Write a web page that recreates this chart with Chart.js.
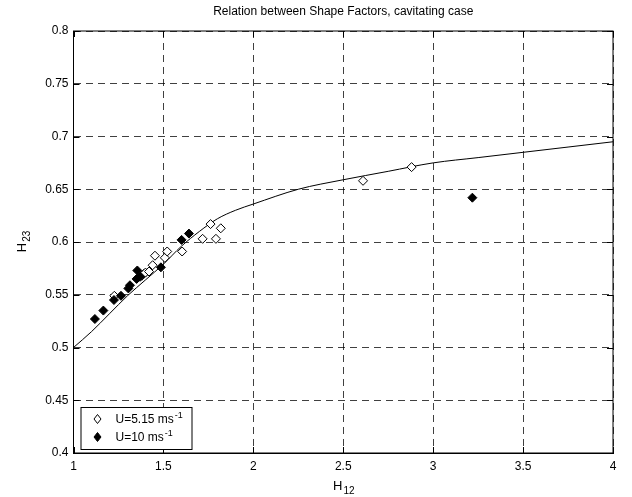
<!DOCTYPE html>
<html>
<head>
<script src="https://cdn.jsdelivr.net/npm/chart.js"></script>
<style>
  body { margin: 0; background: #fff; }
  canvas { display: block; }
</style>
</head>
<body>
<canvas id="shapeChart" width="632" height="497"></canvas>
<script>
// --- Data ---
const titleText = 'Relation between Shape Factors, cavitating case';
const xTitle = 'H_12';
const yTitle = 'H_23';

const xTicks = [1, 1.5, 2, 2.5, 3, 3.5, 4];
const yTicks = [0.4, 0.45, 0.5, 0.55, 0.6, 0.65, 0.7, 0.75, 0.8];

// U = 5.15 m/s (open diamonds)
const lowH12 = [1.227, 1.38, 1.392, 1.40, 1.42, 1.44, 1.453, 1.508, 1.521, 1.604, 1.718, 1.762, 1.792, 1.819, 2.61, 2.88];
const lowH23 = [0.549, 0.568, 0.570, 0.571, 0.572, 0.578, 0.587, 0.585, 0.591, 0.591, 0.603, 0.617, 0.603, 0.613, 0.658, 0.671];

// U = 10 m/s (filled diamonds)
const highH12 = [1.119, 1.166, 1.225, 1.264, 1.305, 1.314, 1.351, 1.355, 1.37, 1.486, 1.601, 1.642, 3.218];
const highH23 = [0.527, 0.535, 0.545, 0.549, 0.556, 0.559, 0.565, 0.573, 0.567, 0.576, 0.602, 0.608, 0.642];

// fitted relation (solid line)
const fitH12 = [1.0, 1.1, 1.2, 1.3, 1.4, 1.5, 1.6, 1.7, 1.8, 1.9, 2.0, 2.25, 2.5, 2.75, 3.0, 3.25, 3.5, 3.75, 4.0];
const fitH23 = [0.500, 0.515, 0.532, 0.549, 0.564, 0.579, 0.596, 0.610, 0.622, 0.630, 0.636, 0.650, 0.659, 0.667, 0.675, 0.680, 0.685, 0.690, 0.695];

const FONT = 'Arial, "Liberation Sans", Helvetica, sans-serif';
const toXY = (xs, ys) => xs.map((x, i) => ({ x: x, y: ys[i] }));
const fmt = v => String(Number(v.toFixed(2)));

// draw "H_12" / "ms^-1" style text with sub/superscripts
function drawRich(ctx, text, x, y, size, align) {
  const m = text.match(/^(.*?)([_^])(.*)$/);
  const base = m ? m[1] : text;
  const script = m ? m[3] : '';
  ctx.font = size + 'px ' + FONT;
  const wb = ctx.measureText(base).width;
  ctx.font = Math.round(size * 0.75) + 'px ' + FONT;
  const ws = ctx.measureText(script).width;
  let x0 = x;
  if (align === 'center') x0 = x - (wb + ws) / 2;
  ctx.textAlign = 'left';
  ctx.textBaseline = 'middle';
  ctx.font = size + 'px ' + FONT;
  ctx.fillText(base, x0, y);
  if (m) {
    ctx.font = Math.round(size * 0.75) + 'px ' + FONT;
    const dy = m[2] === '_' ? size * 0.4 : -size * 0.4;
    ctx.fillText(script, x0 + wb + 1, y + dy);
  }
}

const matlabFrame = {
  id: 'matlabFrame',
  afterDraw(chart) {
    const { ctx, chartArea: a, scales } = chart;
    ctx.save();
    ctx.strokeStyle = '#000';
    ctx.lineWidth = 1;
    ctx.setLineDash([]);
    ctx.strokeRect(a.left, a.top, a.right - a.left, a.bottom - a.top);
    // inward ticks on all sides
    const t = 6;
    ctx.beginPath();
    xTicks.forEach(v => {
      const px = Math.round(scales.x.getPixelForValue(v)) + 0.5;
      ctx.moveTo(px, a.bottom); ctx.lineTo(px, a.bottom - t);
      ctx.moveTo(px, a.top); ctx.lineTo(px, a.top + t);
    });
    yTicks.forEach(v => {
      const py = Math.round(scales.y.getPixelForValue(v)) + 0.5;
      ctx.moveTo(a.left, py); ctx.lineTo(a.left + t, py);
      ctx.moveTo(a.right, py); ctx.lineTo(a.right - t, py);
    });
    ctx.stroke();

    // axis titles
    ctx.fillStyle = '#000';
    drawRich(ctx, xTitle, (a.left + a.right) / 2, 486, 13, 'center');
    ctx.save();
    ctx.translate(22, (a.top + a.bottom) / 2);
    ctx.rotate(-Math.PI / 2);
    drawRich(ctx, yTitle, 0, 0, 13, 'center');
    ctx.restore();

    // legend box, lower left
    const bx = a.left + 7, by = a.bottom - 46, bw = 111, bh = 42;
    ctx.fillStyle = '#fff';
    ctx.fillRect(bx, by, bw, bh);
    ctx.strokeStyle = '#000';
    ctx.strokeRect(bx + 0.5, by + 0.5, bw, bh);
    chart.data.datasets.forEach(ds => {
      if (!ds.showInLegend) return;
      const ry = by + 12 + ds.legendRow * 18;
      ctx.fillStyle = ds.backgroundColor;
      ctx.strokeStyle = '#000';
      ctx.beginPath();
      ctx.moveTo(bx + 17, ry - 4.5); ctx.lineTo(bx + 20.5, ry);
      ctx.lineTo(bx + 17, ry + 4.5); ctx.lineTo(bx + 13.5, ry);
      ctx.closePath();
      ctx.fill(); ctx.stroke();
      ctx.fillStyle = '#000';
      drawRich(ctx, ds.label, bx + 35, ry + 1, 12, 'left');
    });
    ctx.restore();
  }
};

const gridStyle = {
  color: 'rgba(0,0,0,0.75)',
  drawTicks: false,
  lineWidth: 1
};

new Chart(document.getElementById('shapeChart'), {
  type: 'scatter',
  data: {
    datasets: [
      {
        label: 'U=5.15 ms^-1',
        data: toXY(lowH12, lowH23),
        pointStyle: 'rectRot',
        pointRadius: 4.5,
        backgroundColor: '#fff',
        borderColor: '#000',
        borderWidth: 1,
        showInLegend: true,
        legendRow: 0,
        order: 2
      },
      {
        label: 'U=10 ms^-1',
        data: toXY(highH12, highH23),
        pointStyle: 'rectRot',
        pointRadius: 4.5,
        backgroundColor: '#000',
        borderColor: '#000',
        borderWidth: 1,
        showInLegend: true,
        legendRow: 1,
        order: 1
      },
      {
        label: 'fit',
        type: 'line',
        data: toXY(fitH12, fitH23),
        borderColor: '#000',
        borderWidth: 1,
        pointRadius: 0,
        fill: false,
        cubicInterpolationMode: 'monotone',
        order: 3
      }
    ]
  },
  options: {
    responsive: false,
    devicePixelRatio: 1,
    animation: false,
    layout: { padding: { left: 0, right: 19, top: 0, bottom: 0 } },
    plugins: {
      legend: { display: false },
      tooltip: { enabled: false },
      title: {
        display: true,
        text: titleText,
        fullSize: false,
        color: '#000',
        font: { family: FONT, size: 12, weight: 'normal', lineHeight: 1.2 },
        padding: { top: 4, bottom: 12.6 }
      }
    },
    scales: {
      x: {
        type: 'linear',
        min: 1, max: 4,
        afterBuildTicks: s => { s.ticks = xTicks.map(v => ({ value: v })); },
        afterFit: s => { s.height = 44; },
        border: { display: true, color: '#000', dash: [7, 5] },
        grid: gridStyle,
        ticks: {
          color: '#000',
          padding: 6,
          font: { family: FONT, size: 12 },
          callback: v => fmt(v)
        }
      },
      y: {
        type: 'linear',
        min: 0.4, max: 0.8,
        afterBuildTicks: s => { s.ticks = yTicks.map(v => ({ value: v })); },
        afterFit: s => { s.width = 73.5; },
        border: { display: true, color: '#000', dash: [7, 5] },
        grid: gridStyle,
        ticks: {
          color: '#000',
          padding: 5,
          font: { family: FONT, size: 12 },
          callback: v => fmt(v)
        }
      }
    }
  },
  plugins: [matlabFrame]
});
</script>
</body>
</html>
